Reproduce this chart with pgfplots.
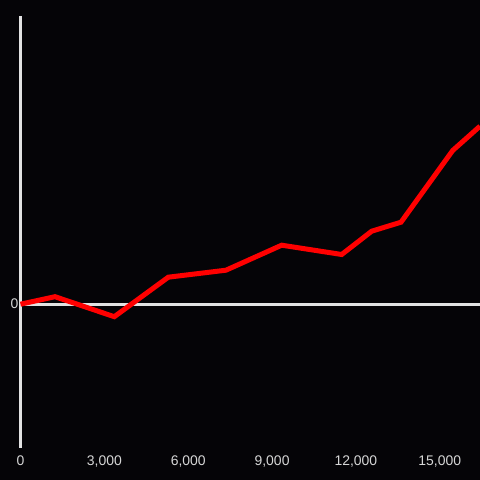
\documentclass[border=0pt]{standalone}
\usepackage{pgfplots}
\pgfplotsset{compat=1.18}
\usepackage{fontspec}
\setmainfont{Liberation Sans}
\definecolor{bg}{HTML}{050407}
\definecolor{axisgray}{HTML}{E2E2E2}
\definecolor{lblgray}{HTML}{D6D6D6}
\definecolor{linered}{HTML}{FF0000}
\begin{document}
\begin{tikzpicture}[x=1bp,y=1bp]
\fill[bg] (0,0) rectangle (480,480);
\useasboundingbox (0,0) rectangle (480,480);
\begin{axis}[
  at={(20.5bp,32bp)}, anchor=south west,
  scale only axis, width=459.5bp, height=432bp,
  xmin=0, xmax=16440, ymin=-143.8, ymax=288.2,
  axis x line*=bottom, axis y line*=left,
  x axis line style={draw=none},
  y axis line style={axisgray, line width=3bp, -},
  ytick={0}, yticklabels={0},
  xtick={0,3000,6000,9000,12000,15000},
  xticklabels={0,{3,000},{6,000},{9,000},{12,000},{15,000}},
  scaled x ticks=false, scaled y ticks=false,
  tick style={draw=none},
  /pgf/number format/assume math mode=true,
  yticklabel style={lblgray, font=\fontsize{14}{14}\selectfont, xshift=1.5bp},
  xticklabel style={lblgray, font=\fontsize{14}{14}\selectfont, yshift=-4bp},
  clip=false,
]
\addplot[axisgray, line width=3bp, forget plot] coordinates {(0,0) (16440,0)};
\addplot[linered, line width=5bp, line join=miter] coordinates {
(0,0) (1234,7.5) (3356,-12.5) (5288,27) (7352,34) (9345,59) (11492,49.7) (12565,73) (13614,82) (15463,153.7) (16440,178)
};
\end{axis}
\end{tikzpicture}
\end{document}
